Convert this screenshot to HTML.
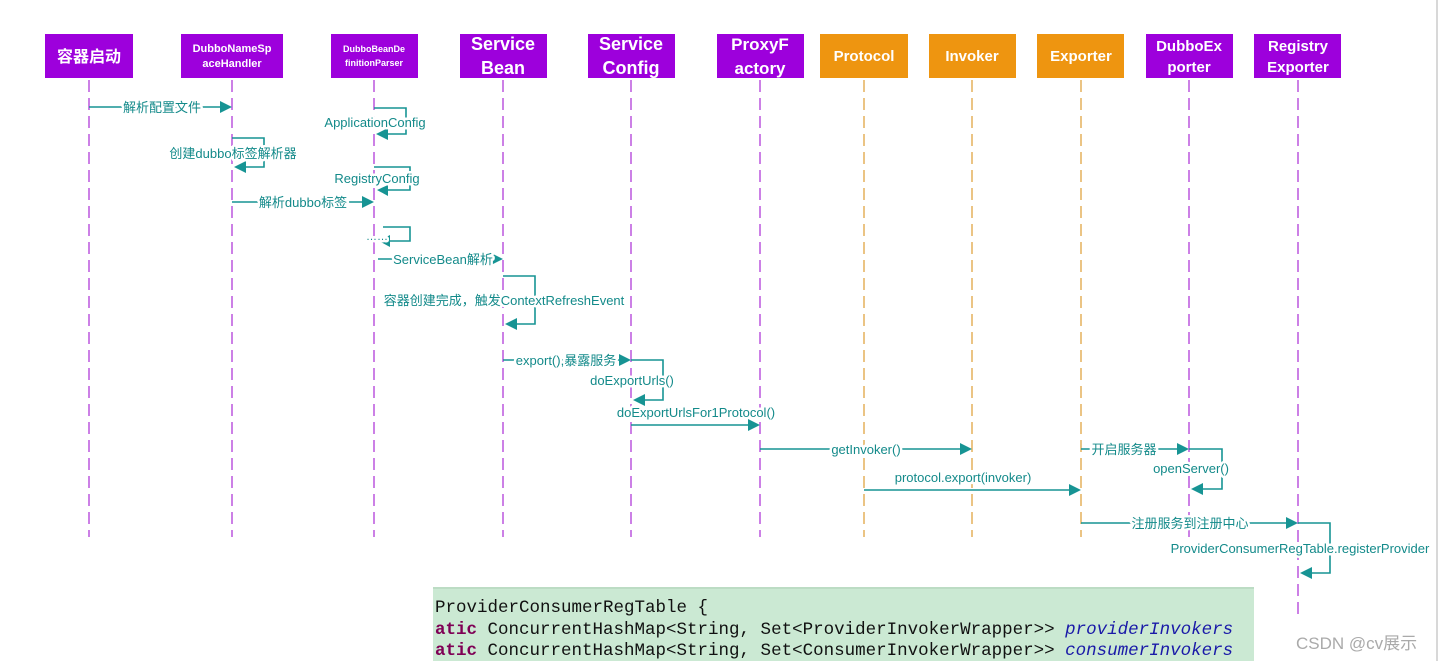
<!DOCTYPE html>
<html><head><meta charset="utf-8"><style>
html,body{margin:0;padding:0;background:#fff;}
svg{display:block}
.b{font-family:"Liberation Sans","Noto Sans CJK SC",sans-serif;font-weight:bold;fill:#fff;text-anchor:middle}
.l{font-family:"Liberation Sans","Noto Sans CJK SC",sans-serif;font-size:13px;fill:#138a8a;text-anchor:middle;paint-order:stroke;stroke:#fff;stroke-width:5px;stroke-linejoin:round}
.m{stroke:#179494;stroke-width:1.6;fill:none}
.h{fill:#179494}
.pl{stroke:#c060e0;stroke-width:1.6;stroke-dasharray:12,6}
.ol{stroke:#e6b665;stroke-width:1.6;stroke-dasharray:12,6}
.c{font-family:"Liberation Mono",monospace;font-size:17.5px;fill:#111}
</style></head><body>
<svg width="1442" height="661" xmlns="http://www.w3.org/2000/svg">
<rect width="1442" height="661" fill="#fff"/>
<line x1="1437" y1="0" x2="1437" y2="661" stroke="#d8d8d8" stroke-width="2"/>
<!-- lifelines -->
<line class="pl" x1="89" y1="80" x2="89" y2="537"/>
<line class="pl" x1="232" y1="80" x2="232" y2="537"/>
<line class="pl" x1="374" y1="80" x2="374" y2="537"/>
<line class="pl" x1="503" y1="80" x2="503" y2="537"/>
<line class="pl" x1="631" y1="80" x2="631" y2="537"/>
<line class="pl" x1="760" y1="80" x2="760" y2="537"/>
<line class="ol" x1="864" y1="80" x2="864" y2="537"/>
<line class="ol" x1="972" y1="80" x2="972" y2="537"/>
<line class="ol" x1="1081" y1="80" x2="1081" y2="537"/>
<line class="pl" x1="1189" y1="80" x2="1189" y2="537"/>
<line class="pl" x1="1298" y1="80" x2="1298" y2="617"/>
<!-- boxes -->
<g>
<rect x="45" y="34" width="88" height="44" fill="#9d00dc"/><text class="b" x="89" y="62" font-size="16">容器启动</text>
<rect x="181" y="34" width="102" height="44" fill="#9d00dc"/><text class="b" x="232" y="52" font-size="11">DubboNameSp</text><text class="b" x="232" y="67" font-size="11">aceHandler</text>
<rect x="331" y="34" width="87" height="44" fill="#9d00dc"/><text class="b" x="374" y="52" font-size="9">DubboBeanDe</text><text class="b" x="374" y="66" font-size="9">finitionParser</text>
<rect x="460" y="34" width="87" height="44" fill="#9d00dc"/><text class="b" x="503" y="50" font-size="18">Service</text><text class="b" x="503" y="74" font-size="18">Bean</text>
<rect x="588" y="34" width="87" height="44" fill="#9d00dc"/><text class="b" x="631" y="50" font-size="18">Service</text><text class="b" x="631" y="74" font-size="18">Config</text>
<rect x="717" y="34" width="87" height="44" fill="#9d00dc"/><text class="b" x="760" y="50" font-size="17">ProxyF</text><text class="b" x="760" y="74" font-size="17">actory</text>
<rect x="820" y="34" width="88" height="44" fill="#ee9510"/><text class="b" x="864" y="61" font-size="15">Protocol</text>
<rect x="929" y="34" width="87" height="44" fill="#ee9510"/><text class="b" x="972" y="61" font-size="15">Invoker</text>
<rect x="1037" y="34" width="87" height="44" fill="#ee9510"/><text class="b" x="1081" y="61" font-size="15">Exporter</text>
<rect x="1146" y="34" width="87" height="44" fill="#9d00dc"/><text class="b" x="1189" y="51" font-size="15">DubboEx</text><text class="b" x="1189" y="72" font-size="15">porter</text>
<rect x="1254" y="34" width="87" height="44" fill="#9d00dc"/><text class="b" x="1298" y="51" font-size="15">Registry</text><text class="b" x="1298" y="72" font-size="15">Exporter</text>
</g>
<!-- messages -->
<line class="m" x1="89" y1="107" x2="222" y2="107"/><polygon class="h" points="220,101 232,107 220,113"/><text class="l" x="162" y="112">解析配置文件</text>

<polyline class="m" points="374,108 406,108 406,134 386,134"/><polygon class="h" points="388,128 376,134 388,140"/><text class="l" x="375" y="127">ApplicationConfig</text>

<polyline class="m" points="232,138 264,138 264,167 244,167"/><polygon class="h" points="246,161 234,167 246,173"/><text class="l" x="233" y="158">创建dubbo标签解析器</text>

<polyline class="m" points="374,167 410,167 410,190 386,190"/><polygon class="h" points="388,185 377,190 388,196"/><text class="l" x="377" y="183">RegistryConfig</text>

<line class="m" x1="232" y1="202" x2="364" y2="202"/><polygon class="h" points="362,196 374,202 362,208"/><text class="l" x="303" y="207">解析dubbo标签</text>

<polyline class="m" points="383,227 410,227 410,241 388,241"/><polygon class="h" points="390,235 379,241 390,247"/><text class="l" x="377" y="240" style="font-size:11px">……</text>

<line class="m" x1="378" y1="259" x2="493" y2="259"/><polygon class="h" points="491,253 503,259 491,265"/><text class="l" x="443" y="264">ServiceBean解析</text>

<polyline class="m" points="503,276 535,276 535,324 515,324"/><polygon class="h" points="517,318 505,324 517,330"/><text class="l" x="504" y="305">容器创建完成，触发ContextRefreshEvent</text>

<line class="m" x1="503" y1="360" x2="621" y2="360"/><polygon class="h" points="619,354 631,360 619,366"/><text class="l" x="566" y="365">export(),暴露服务</text>
<polyline class="m" points="631,360 663,360 663,400 643,400"/><polygon class="h" points="645,394 633,400 645,406"/><text class="l" x="632" y="385">doExportUrls()</text>

<text class="l" x="696" y="417">doExportUrlsFor1Protocol()</text>
<line class="m" x1="631" y1="425" x2="750" y2="425"/><polygon class="h" points="748,419 760,425 748,431"/>

<line class="m" x1="760" y1="449" x2="962" y2="449"/><polygon class="h" points="960,443 972,449 960,455"/><text class="l" x="866" y="454">getInvoker()</text>

<text class="l" x="963" y="482">protocol.export(invoker)</text>
<line class="m" x1="864" y1="490" x2="1071" y2="490"/><polygon class="h" points="1069,484 1081,490 1069,496"/>

<line class="m" x1="1081" y1="449" x2="1179" y2="449"/><polygon class="h" points="1177,443 1189,449 1177,455"/><text class="l" x="1124" y="454">开启服务器</text>
<polyline class="m" points="1189,449 1222,449 1222,489 1201,489"/><polygon class="h" points="1203,483 1191,489 1203,495"/><text class="l" x="1191" y="473">openServer()</text>

<line class="m" x1="1081" y1="523" x2="1288" y2="523"/><polygon class="h" points="1286,517 1298,523 1286,529"/><text class="l" x="1190" y="528">注册服务到注册中心</text>
<polyline class="m" points="1298,523 1330,523 1330,573 1310,573"/><polygon class="h" points="1312,567 1300,573 1312,579"/><text class="l" x="1300" y="553">ProviderConsumerRegTable.registerProvider</text>

<!-- code box -->
<rect x="433" y="587" width="821" height="74" fill="#cbe9d3"/>
<rect x="433" y="587" width="821" height="2" fill="#bcdcc4"/>
<text class="c" x="435" y="612">ProviderConsumerRegTable {</text>
<text class="c" x="435" y="634"><tspan fill="#7f0055" font-weight="bold">atic</tspan> ConcurrentHashMap&lt;String, Set&lt;ProviderInvokerWrapper&gt;&gt; <tspan fill="#1a1aa8" font-style="italic">providerInvokers</tspan></text>
<text class="c" x="435" y="655"><tspan fill="#7f0055" font-weight="bold">atic</tspan> ConcurrentHashMap&lt;String, Set&lt;ConsumerInvokerWrapper&gt;&gt; <tspan fill="#1a1aa8" font-style="italic">consumerInvokers</tspan></text>

<text x="1296" y="649" font-family="Liberation Sans,Noto Sans CJK SC,sans-serif" font-size="17" fill="#aaa">CSDN @cv展示</text>
</svg>
</body></html>
